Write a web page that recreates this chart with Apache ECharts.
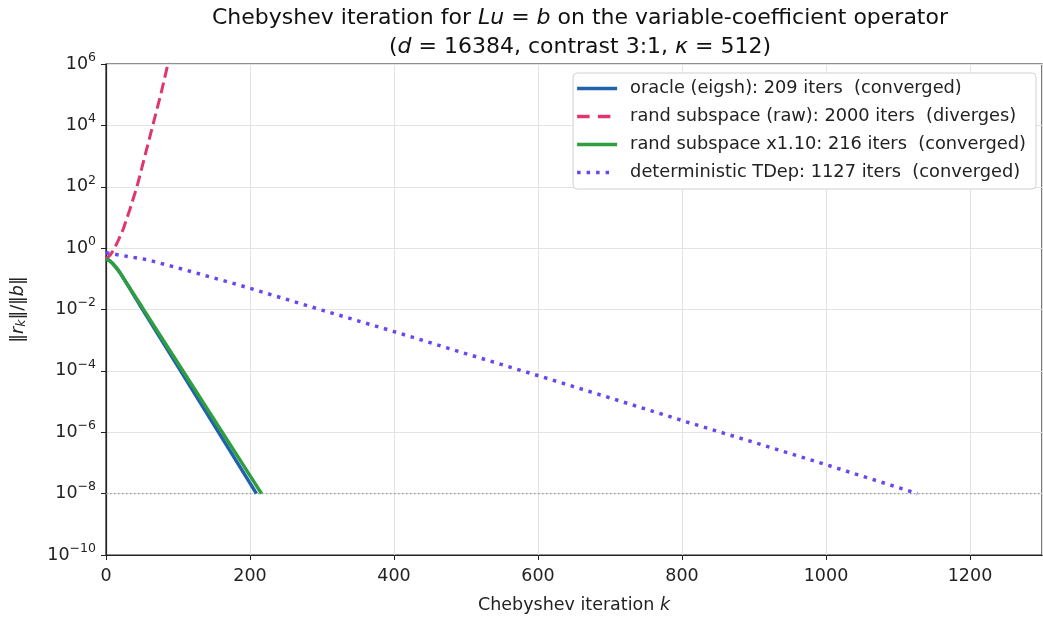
<!DOCTYPE html>
<html>
<head>
<meta charset="utf-8">
<script src="https://cdn.jsdelivr.net/npm/echarts@6.0.0/dist/echarts.min.js"></script>
<style>
  html, body { margin: 0; padding: 0; background: #fff; }
  #chart { width: 1043px; height: 617px; }
</style>
</head>
<body>
<div id="chart"></div>
<script>
// donnees (iteration k, residu relatif)
const oracleIter = [0, 5, 10, 15, 20, 30, 50, 100, 150, 209];
const oracleRes = [0.437, 0.389, 0.302, 0.219, 0.151, 0.0631, 0.0107, 1.38e-4, 1.74e-6, 1e-8];

const rawIter = [0, 6, 12, 18, 24, 33, 43, 54, 65, 76, 86, 96, 110];
const rawRes = [0.44, 0.6, 1.0, 2.0, 4.2, 17.8, 100, 1e3, 1e4, 1e5, 1e6, 1e7, 2e8];

const scaledIter = [0, 5, 10, 15, 20, 30, 50, 100, 150, 216];
const scaledRes = [0.437, 0.389, 0.302, 0.219, 0.151, 0.0646, 0.012, 1.78e-4, 2.63e-6, 1e-8];

const tdepIter = [0, 12, 56, 107, 177, 200, 300, 400, 500, 612, 700, 806, 900, 1006, 1127];
const tdepRes = [0.708, 0.631, 0.427, 0.204, 0.0708, 0.049, 0.00955, 1.91e-3, 3.63e-4,
                 5.75e-5, 1.32e-5, 2.19e-6, 4.68e-7, 7.94e-8, 1e-8];

const tolIter = [0, 1300];
const tolRes = [1e-8, 1e-8];

const seriesNames = [
    'oracle (eigsh): 209 iters  (converged)',
    'rand subspace (raw): 2000 iters  (diverges)',
    'rand subspace x1.10: 216 iters  (converged)',
    'deterministic TDep: 1127 iters  (converged)'
];

// icones de legende (trait plein, tirets, pointilles) ; le dernier segment vide fixe la largeur
const iconSolid = 'path://M0,0H40V3.5H0Z';
const iconDashed = 'path://M0,0H12.5V3.5H0Z M20.8,0H33.3V3.5H20.8Z M40,0L40,3.5L40,3.5Z';
const iconDotted = 'path://M0,0H3.5V3.5H0Z M9.5,0H13V3.5H9.5Z M19,0H22.5V3.5H19Z M28.5,0H32V3.5H28.5Z M40,0L40,3.5L40,3.5Z';

function pairs(xs, ys) {
    return xs.map((x, i) => [x, ys[i]]);
}

const font = 'DejaVu Sans';
const fs = 17.5;
let chart;

window.onload = init;

function init() {
    chart = echarts.init(document.getElementById('chart'));

    let options = {
        backgroundColor: '#fff',
        animation: false,
        textStyle: { fontFamily: font },
        title: {
            text: 'Chebyshev iteration for {i|Lu} = {i|b} on the variable-coefficient operator\n' +
                  '({i|d} = 16384, contrast 3:1, {i|κ} = 512)',
            left: 575,
            textAlign: 'center',
            top: -1,
            textStyle: {
                fontFamily: font,
                fontWeight: 'normal',
                fontSize: 22,
                color: '#111',
                lineHeight: 29,
                rich: {
                    i: { fontFamily: font, fontStyle: 'italic', fontSize: 22, color: '#111', lineHeight: 29 }
                }
            }
        },
        legend: {
            data: [
                { name: seriesNames[0], icon: iconSolid },
                { name: seriesNames[1], icon: iconDashed },
                { name: seriesNames[2], icon: iconSolid },
                { name: seriesNames[3], icon: iconDotted }
            ],
            orient: 'vertical',
            right: 7,
            top: 73,
            itemWidth: 40,
            itemHeight: 3.5,
            itemGap: 7,
            padding: [5, 10, 6, 4],
            backgroundColor: '#fff',
            borderColor: '#d0d0d0',
            borderWidth: 1,
            borderRadius: 4,
            itemStyle: { borderWidth: 0 },
            textStyle: {
                fontFamily: font,
                fontSize: 17.8,
                color: '#222',
                lineHeight: 21,
                padding: [0, 0, 0, 8]
            }
        },
        grid: {
            left: 106,
            right: 1,
            top: 64,
            bottom: 62,
            outerBoundsMode: 'none',
            containLabel: false,
            show: true,
            borderColor: '#222',
            borderWidth: 1.2,
            backgroundColor: 'transparent'
        },
        xAxis: {
            type: 'value',
            min: 0,
            max: 1300,
            interval: 200,
            name: 'Chebyshev iteration {i|k}',
            nameLocation: 'middle',
            nameGap: 41,
            nameTextStyle: {
                fontFamily: font,
                fontSize: fs,
                color: '#222',
                rich: { i: { fontFamily: font, fontStyle: 'italic', fontSize: fs, color: '#222' } }
            },
            axisLine: { show: true, lineStyle: { color: '#222', width: 1.2 } },
            axisTick: { show: true, length: 5, lineStyle: { color: '#222' } },
            axisLabel: {
                fontFamily: font,
                fontSize: fs,
                color: '#222',
                margin: 12,
                showMaxLabel: false,
                formatter: v => String(v)
            },
            splitLine: { show: true, lineStyle: { color: '#e3e3e3', width: 1 } }
        },
        yAxis: {
            type: 'log',
            logBase: 10,
            min: 1e-10,
            max: 1e6,
            interval: 2,
            name: '{n|‖}{i|r}{s|k}{n|‖/‖}{i|b}{n|‖}',
            nameLocation: 'middle',
            nameRotate: 90,
            nameGap: 78,
            nameTextStyle: {
                rich: {
                    n: { fontFamily: font, fontSize: fs, color: '#222' },
                    i: { fontFamily: font, fontStyle: 'italic', fontSize: fs, color: '#222' },
                    s: { fontFamily: font, fontStyle: 'italic', fontSize: 12.5, color: '#222', padding: [7, 0, 0, 0] }
                }
            },
            axisLine: { show: true, lineStyle: { color: '#222', width: 1.2 } },
            axisTick: { show: true, length: 5, lineStyle: { color: '#222' } },
            minorTick: { show: false },
            axisLabel: {
                margin: 10,
                formatter: function (v) {
                    let e = Math.round(Math.log10(v));
                    return '{b|10}{e|' + (e < 0 ? '−' : '') + Math.abs(e) + '}';
                },
                rich: {
                    b: { fontFamily: font, fontSize: fs, color: '#222' },
                    e: { fontFamily: font, fontSize: 12.5, color: '#222', padding: [0, 0, 13, 0] }
                }
            },
            splitLine: { show: true, lineStyle: { color: '#e3e3e3', width: 1 } }
        },
        series: [
            {
                name: 'tol',
                type: 'line',
                data: pairs(tolIter, tolRes),
                symbol: 'none',
                silent: true,
                z: 1,
                lineStyle: { color: '#999', width: 1.3, type: [1.5, 2.5] }
            },
            {
                name: seriesNames[0],
                type: 'line',
                data: pairs(oracleIter, oracleRes),
                symbol: 'none',
                clip: true,
                z: 2,
                lineStyle: { color: '#2162ad', width: 3.5 },
                itemStyle: { color: '#2162ad' }
            },
            {
                name: seriesNames[1],
                type: 'line',
                data: pairs(rawIter, rawRes),
                symbol: 'none',
                clip: true,
                z: 3,
                lineStyle: { color: '#e0356f', width: 3, type: [11, 5] },
                itemStyle: { color: '#e0356f' }
            },
            {
                name: seriesNames[2],
                type: 'line',
                data: pairs(scaledIter, scaledRes),
                symbol: 'none',
                clip: true,
                z: 4,
                lineStyle: { color: '#2f9e3f', width: 3.5 },
                itemStyle: { color: '#2f9e3f' }
            },
            {
                name: seriesNames[3],
                type: 'line',
                data: pairs(tdepIter, tdepRes),
                symbol: 'none',
                clip: true,
                z: 5,
                lineStyle: { color: '#6b45f0', width: 3.5, type: [3.5, 5.8] },
                itemStyle: { color: '#6b45f0' }
            }
        ]
    };

    chart.setOption(options);
}
</script>
</body>
</html>
